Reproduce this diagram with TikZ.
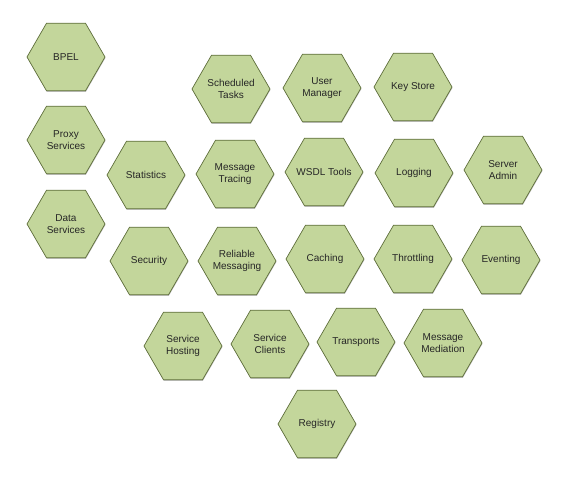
\documentclass[tikz,border=0pt]{standalone}
\usepackage{fontspec}
\setmainfont{Liberation Sans}
\usetikzlibrary{shapes.geometric,shadows}
\definecolor{hexfill}{HTML}{C3D69B}
\definecolor{hexline}{HTML}{5E6E3B}
\definecolor{hextext}{HTML}{262626}
\begin{document}
\begin{tikzpicture}[x=1pt,y=1pt,
  hextxt/.style={text=hextext, align=center, inner sep=0pt,
    font=\fontsize{10}{12}\selectfont},
  hexbox/.style={regular polygon, regular polygon sides=6, minimum size=78pt,
    inner sep=0pt, fill=hexfill, draw=hexline, line width=0.7pt,
    drop shadow={shadow xshift=0.4pt, shadow yshift=-1pt, opacity=0.25, fill=black},
    label={[hextxt]center:#1}}]
\useasboundingbox (0,0) rectangle (572,480);
\node[hexbox={BPEL}] (bpel) at (66,423) {};
\node[hexbox={Proxy\\Services}] (proxy) at (66,340) {};
\node[hexbox={Data\\Services}] (data) at (66,256) {};
\node[hexbox={Scheduled\\Tasks}] (sched) at (231,391) {};
\node[hexbox={User\\Manager}] (user) at (322,392) {};
\node[hexbox={Key Store}] (key) at (413,393) {};
\node[hexbox={Statistics}] (stats) at (146,305) {};
\node[hexbox={Message\\Tracing}] (trace) at (235,306) {};
\node[hexbox={WSDL Tools}] (wsdl) at (324,308) {};
\node[hexbox={Logging}] (logging) at (414,307) {};
\node[hexbox={Server\\Admin}] (admin) at (503,310) {};
\node[hexbox={Security}] (security) at (149,219) {};
\node[hexbox={Reliable\\Messaging}] (reliable) at (237,219) {};
\node[hexbox={Caching}] (caching) at (325,221) {};
\node[hexbox={Throttling}] (throttling) at (413,221) {};
\node[hexbox={Eventing}] (eventing) at (501,220) {};
\node[hexbox={Service\\Hosting}] (hosting) at (183,134) {};
\node[hexbox={Service\\Clients}] (clients) at (270,136) {};
\node[hexbox={Transports}] (transports) at (356,138) {};
\node[hexbox={Message\\Mediation}] (mediation) at (443,137) {};
\node[hexbox={Registry}] (registry) at (317,56) {};
\end{tikzpicture}
\end{document}
